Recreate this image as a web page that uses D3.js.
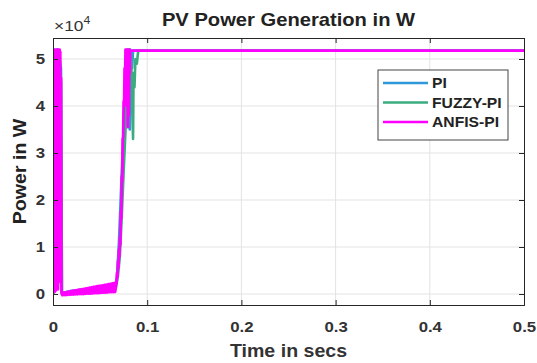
<!DOCTYPE html>
<html>
<head>
<meta charset="utf-8">
<script src="https://cdn.jsdelivr.net/npm/d3@7"></script>
<style>
  body { margin: 0; background: #fff; }
  text { font-family: "Liberation Sans", Arial, sans-serif; }
</style>
</head>
<body>
<svg id="chart" width="537" height="363"></svg>
<script>
// series names and colours (legend order)
const seriesNames = ["PI", "FUZZY-PI", "ANFIS-PI"];
const seriesColors = ["#2f98d8", "#3aac80", "#ff00ff"];

const xTicks = [0, 0.1, 0.2, 0.3, 0.4, 0.5];
const yTicks = [0, 10000, 20000, 30000, 40000, 50000];

// PI controller (mostly hidden behind the others)
const piTime = [0, 0.0005, 0.001, 0.0015, 0.002, 0.003, 0.004, 0.005, 0.006, 0.0065, 0.007, 0.0085, 0.0095,
  0.012, 0.02, 0.03, 0.04, 0.05, 0.06, 0.066,
  0.068, 0.070, 0.072, 0.074, 0.076, 0.078, 0.079, 0.080, 0.0805, 0.0815, 0.082, 0.084, 0.085, 0.5];
const piPower = [0, 52000, 1000, 51500, 2000, 51800, 3000, 52000, 42000, 17000, 50000, 48000, 0,
  300, 700, 900, 1100, 1300, 1500, 1600,
  4000, 11000, 21000, 31000, 39000, 47000, 52000, 43000, 52000, 35000, 52000, 48000, 51800, 51800];

// FUZZY-PI controller
const fuzzyTime = [0, 0.0005, 0.001, 0.002, 0.003, 0.004, 0.005, 0.006, 0.007, 0.0085, 0.0095,
  0.012, 0.02, 0.03, 0.04, 0.05, 0.06, 0.066,
  0.067, 0.069, 0.071, 0.073, 0.075, 0.077, 0.0785, 0.080, 0.081, 0.082, 0.083, 0.084, 0.085,
  0.0855, 0.0865, 0.0875, 0.089, 0.0905, 0.5];
const fuzzyPower = [0, 51000, 800, 51500, 1500, 52000, 2500, 51800, 47000, 45000, 0,
  200, 600, 900, 1100, 1300, 1500, 1700,
  1500, 4000, 8000, 16500, 26000, 35000, 42000, 49000, 52000, 46000, 51000, 40000, 33000,
  47000, 44000, 50000, 49000, 51800, 51800];

// ANFIS-PI controller (on top)
const anfisTime = [
  0, 0.0003, 0.0007, 0.001, 0.0013, 0.0017, 0.002, 0.0023, 0.0027, 0.003, 0.0033, 0.0037, 0.004,
  0.0043, 0.0047, 0.005, 0.0053, 0.0057, 0.006, 0.0063, 0.0067, 0.007, 0.0073, 0.0077, 0.008, 0.0085, 0.009,
  0.010, 0.011, 0.012, 0.013, 0.014, 0.015, 0.016, 0.017, 0.018, 0.019,
  0.020, 0.021, 0.022, 0.023, 0.024, 0.025, 0.026, 0.027, 0.028, 0.029,
  0.030, 0.031, 0.032, 0.033, 0.034, 0.035, 0.036, 0.037, 0.038, 0.039,
  0.040, 0.041, 0.042, 0.043, 0.044, 0.045, 0.046, 0.047, 0.048, 0.049,
  0.050, 0.051, 0.052, 0.053, 0.054, 0.055, 0.056, 0.057, 0.058, 0.059,
  0.060, 0.061, 0.062, 0.063, 0.064, 0.065, 0.066,
  0.0665, 0.067, 0.0675, 0.068, 0.0685, 0.069, 0.0695, 0.070, 0.0705, 0.071, 0.0715, 0.072,
  0.0725, 0.073, 0.0735, 0.074, 0.0745, 0.075, 0.0755, 0.076, 0.0765,
  0.077, 0.0775, 0.078, 0.0785, 0.079, 0.0795, 0.080, 0.0805, 0.081, 0.0815, 0.082, 0.085, 0.5];
const anfisPower = [
  800, 52000, 300, 51800, 1200, 52000, 500, 51500, 2000, 52000, 800, 51700, 1500,
  52000, 3000, 51600, 1000, 52000, 2500, 51800, 4000, 52000, 42000, 51500, 20000, 46000, 300,
  -250, 300, -200, 350, -200, 450, -150, 500, -150, 600,
  -100, 650, -100, 750, -50, 800, -50, 900, 0, 950,
  0, 1050, 0, 1100, 50, 1200, 100, 1250, 100, 1350,
  100, 1400, 150, 1500, 200, 1550, 200, 1650, 200, 1700,
  250, 1800, 300, 1850, 300, 1950, 300, 2000, 350, 2100,
  400, 2150, 400, 2250, 400, 2300, 450,
  1200, 2500, 2200, 4500, 3600, 7000, 5600, 9500, 8000, 12000, 10500, 17500,
  16000, 25000, 24000, 33000, 33500, 41000, 40000, 48000, 46000,
  52000, 44000, 52000, 40000, 52000, 35500, 51000, 38000, 52000, 47000, 51800, 51800, 51800];

const seriesData = [
  d3.zip(piTime, piPower),
  d3.zip(fuzzyTime, fuzzyPower),
  d3.zip(anfisTime, anfisPower)
];

const margin = {top: 38, right: 13, bottom: 58, left: 53};
const width = 537, height = 363;
const stretch = 1.12; // reference text is slightly wide

const svg = d3.select("#chart");

const x = d3.scaleLinear()
  .domain([0, 0.5])
  .range([margin.left, width - margin.right]);

const y = d3.scaleLinear()
  .domain([-2340, 54470])
  .range([height - margin.bottom, margin.top]);

// grid
svg.append("g")
  .selectAll("line")
  .data(xTicks.slice(1, -1))
  .enter().append("line")
    .attr("x1", d => x(d)).attr("x2", d => x(d))
    .attr("y1", y.range()[1]).attr("y2", y.range()[0])
    .attr("stroke", "#e3e3e3");

svg.append("g")
  .selectAll("line")
  .data(yTicks)
  .enter().append("line")
    .attr("x1", x.range()[0]).attr("x2", x.range()[1])
    .attr("y1", d => y(d)).attr("y2", d => y(d))
    .attr("stroke", "#e3e3e3");

// lines
svg.append("clipPath").attr("id", "clip")
  .append("rect")
    .attr("x", x.range()[0]).attr("y", y.range()[1])
    .attr("width", x.range()[1] - x.range()[0])
    .attr("height", y.range()[0] - y.range()[1]);

const line = d3.line()
  .x(d => x(d[0]))
  .y(d => y(d[1]));

svg.append("g")
    .attr("clip-path", "url(#clip)")
  .selectAll("path")
  .data(seriesData)
  .enter().append("path")
    .attr("d", line)
    .attr("fill", "none")
    .attr("stroke", (d, i) => seriesColors[i])
    .attr("stroke-width", (d, i) => i === 2 ? 2.8 : 2.6)
    .attr("stroke-linejoin", "round");

// axes (ticks inside, box)
const axisColor = "#262626";

svg.append("g")
    .attr("transform", `translate(0,${y.range()[0]})`)
    .call(d3.axisBottom(x).tickValues(xTicks).tickSize(-5).tickPadding(16)
      .tickFormat(d => d === 0 ? "0" : d3.format(".1f")(d)))
    .call(g => g.select(".domain").attr("stroke", axisColor))
    .call(g => g.selectAll(".tick line").attr("stroke", axisColor))
    .call(g => g.selectAll(".tick text")
      .attr("fill", "#333").attr("transform", `scale(${stretch},1)`)
      .style("font-size", "15px").style("font-weight", "bold"));

svg.append("g")
    .attr("transform", `translate(0,${y.range()[1]})`)
    .call(d3.axisTop(x).tickValues(xTicks).tickSize(-5).tickFormat(""))
    .call(g => g.select(".domain").attr("stroke", axisColor))
    .call(g => g.selectAll(".tick line").attr("stroke", axisColor));

svg.append("g")
    .attr("transform", `translate(${x.range()[0]},0)`)
    .call(d3.axisLeft(y).tickValues(yTicks).tickSize(-5).tickPadding(7)
      .tickFormat(d => d / 10000))
    .call(g => g.select(".domain").attr("stroke", axisColor))
    .call(g => g.selectAll(".tick line").attr("stroke", axisColor))
    .call(g => g.selectAll(".tick text")
      .attr("fill", "#333").attr("transform", `scale(${stretch},1)`)
      .style("font-size", "15px").style("font-weight", "bold"));

svg.append("g")
    .attr("transform", `translate(${x.range()[1]},0)`)
    .call(d3.axisRight(y).tickValues(yTicks).tickSize(-5).tickFormat(""))
    .call(g => g.select(".domain").attr("stroke", axisColor))
    .call(g => g.selectAll(".tick line").attr("stroke", axisColor));

// exponent label
const expo = svg.append("text")
    .attr("transform", `translate(${x.range()[0] + 1},${y.range()[1] - 7}) scale(${stretch},1)`)
    .attr("fill", "#333")
    .style("font-size", "15.5px");
expo.append("tspan").text("\u00d710");
expo.append("tspan").attr("dy", -7).style("font-size", "11px").text("4");

// title and axis labels
svg.append("text")
    .attr("transform", `translate(${(x.range()[0] + x.range()[1]) / 2},26) scale(${stretch},1)`)
    .attr("text-anchor", "middle")
    .attr("fill", "#222")
    .style("font-size", "18px")
    .style("font-weight", "bold")
    .text("PV Power Generation in W");

svg.append("text")
    .attr("transform", `translate(${(x.range()[0] + x.range()[1]) / 2},357) scale(${stretch},1)`)
    .attr("text-anchor", "middle")
    .attr("fill", "#333")
    .style("font-size", "17.5px")
    .style("font-weight", "bold")
    .text("Time in secs");

svg.append("text")
    .attr("transform", `translate(26,${(y.range()[0] + y.range()[1]) / 2}) rotate(-90) scale(${stretch},1)`)
    .attr("text-anchor", "middle")
    .attr("fill", "#222")
    .style("font-size", "17.5px")
    .style("font-weight", "bold")
    .text("Power in W");

// legend
const legend = svg.append("g").attr("transform", "translate(378,70)");
legend.append("rect")
    .attr("width", 130).attr("height", 70)
    .attr("fill", "#fff")
    .attr("stroke", "#444");

const entry = legend.selectAll("g.entry")
  .data(seriesNames)
  .enter().append("g")
    .attr("class", "entry")
    .attr("transform", (d, i) => `translate(0,${13 + i * 19.5})`);

entry.append("line")
    .attr("x1", 5).attr("x2", 50)
    .attr("stroke", (d, i) => seriesColors[i])
    .attr("stroke-width", 2.6);

entry.append("text")
    .attr("transform", `translate(54,0) scale(${stretch},1)`)
    .attr("dy", "0.36em")
    .attr("fill", "#222")
    .style("font-size", "14px")
    .style("font-weight", "bold")
    .text(d => d);
</script>
</body>
</html>
